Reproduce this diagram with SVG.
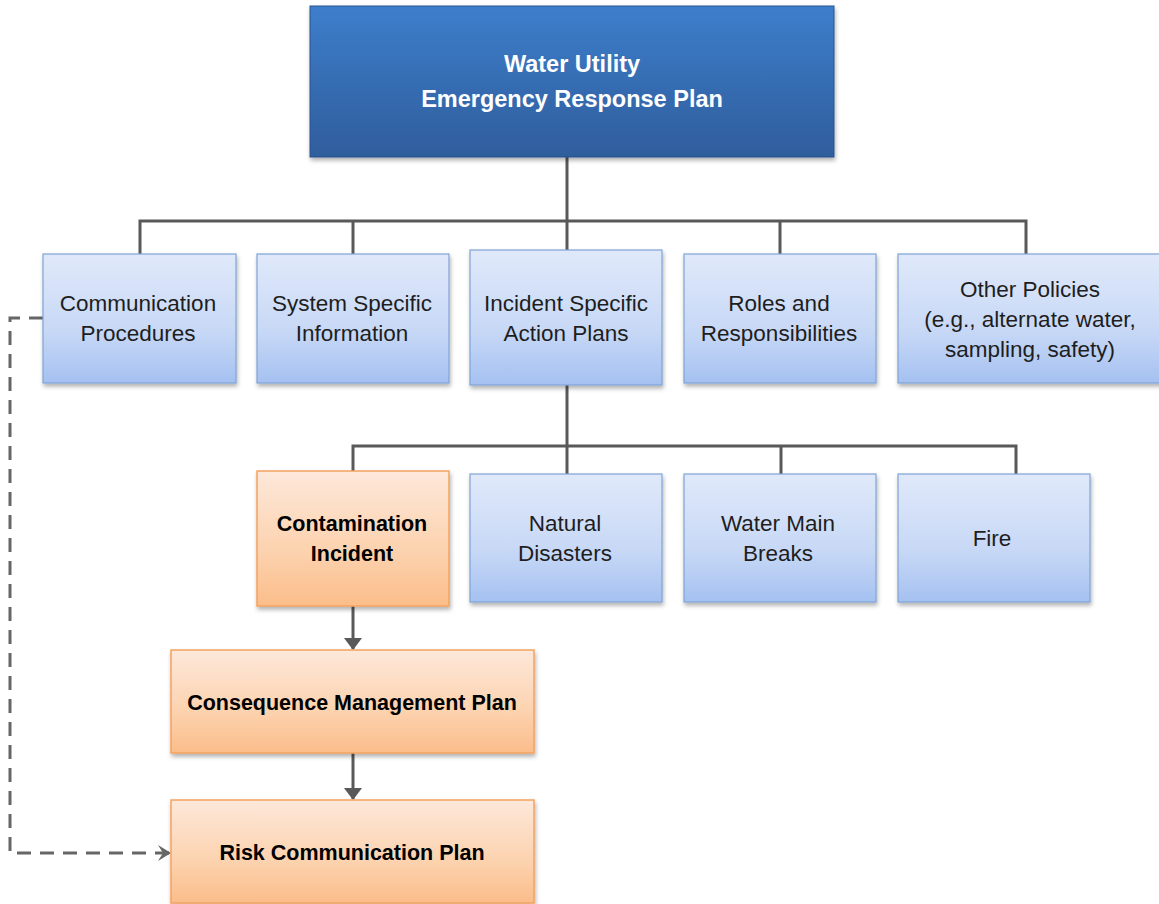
<svg xmlns="http://www.w3.org/2000/svg" width="1159" height="904" viewBox="0 0 1159 904">
<style>
.blue{fill:url(#gb);stroke:#7FA3D6;stroke-width:1.2;filter:url(#sh)}
.orng{fill:url(#go);stroke:#F3A35F;stroke-width:1.5;filter:url(#sh)}
.top{fill:url(#gt);stroke:#2A5390;stroke-width:1;filter:url(#sh)}
text{font-family:"Liberation Sans",Arial,sans-serif;font-size:22.5px;text-anchor:middle;fill:#1E1E1E}
.b{font-weight:bold;fill:#000;font-size:21.5px}
.w{font-weight:bold;fill:#fff;font-size:23.5px}
.ln{fill:none;stroke:#595959;stroke-width:3}
.ds{fill:none;stroke:#666;stroke-width:3;stroke-dasharray:14 9}
</style>
<defs>
<linearGradient id="gb" x1="0" y1="0" x2="0" y2="1"><stop offset="0" stop-color="#E0E9FA"/><stop offset="0.6" stop-color="#C7D8F6"/><stop offset="1" stop-color="#A5C1F1"/></linearGradient>
<linearGradient id="go" x1="0" y1="0" x2="0" y2="1"><stop offset="0" stop-color="#FDE8DA"/><stop offset="0.6" stop-color="#FCD2AE"/><stop offset="1" stop-color="#FBBD8A"/></linearGradient>
<linearGradient id="gt" x1="0" y1="0" x2="0" y2="1"><stop offset="0" stop-color="#3D7ECB"/><stop offset="1" stop-color="#2F5D9C"/></linearGradient>
<filter id="sh" x="-10%" y="-10%" width="120%" height="130%"><feDropShadow dx="1" dy="3" stdDeviation="2" flood-color="#000" flood-opacity="0.3"/></filter>
<marker id="ah" viewBox="0 0 12 18" refX="11" refY="9" markerWidth="12" markerHeight="18" markerUnits="userSpaceOnUse" orient="auto"><path d="M0,0 L12,9 L0,18 z" fill="#595959"/></marker>
<marker id="ac" viewBox="0 0 13 16" refX="12" refY="8" markerWidth="13" markerHeight="16" markerUnits="userSpaceOnUse" orient="auto"><path d="M0,0 L13,8 L0,16 L5,8 z" fill="#666"/></marker>
</defs>
<g id="connectors">
<path class="ln" d="M567,157 V221 M140,254 V221 H1026 V254 M353,221 V254 M567,221 V250 M780,221 V254"/>
<path class="ln" d="M567,385 V446 M353,471 V446 H1016 V474 M567,446 V474 M781,446 V474"/>
<path class="ln" d="M353,606 V649" marker-end="url(#ah)"/>
<path class="ln" d="M353,753 V799" marker-end="url(#ah)"/>
<path class="ds" d="M43,318 H10 V853 H170" marker-end="url(#ac)"/>
</g>
<g id="n-top"><rect class="top" x="310" y="6" width="524" height="151"/><text class="w" x="572" y="72">Water Utility</text><text class="w" x="572" y="107">Emergency Response Plan</text></g>
<g id="n-comm"><rect class="blue" x="43" y="254" width="193" height="129"/><text x="138" y="311">Communication</text><text x="138" y="341">Procedures</text></g>
<g id="n-sys"><rect class="blue" x="257" y="254" width="192" height="129"/><text x="352" y="311">System Specific</text><text x="352" y="341">Information</text></g>
<g id="n-inc"><rect class="blue" x="470" y="250" width="192" height="135"/><text x="566" y="311">Incident Specific</text><text x="566" y="341">Action Plans</text></g>
<g id="n-roles"><rect class="blue" x="684" y="254" width="192" height="129"/><text x="779" y="311">Roles and</text><text x="779" y="341">Responsibilities</text></g>
<g id="n-other"><rect class="blue" x="898" y="254" width="266" height="129"/><text x="1030" y="297">Other Policies</text><text x="1030" y="327">(e.g., alternate water,</text><text x="1030" y="357">sampling, safety)</text></g>
<g id="n-cont"><rect class="orng" x="257" y="471" width="192" height="135"/><text class="b" x="352" y="531">Contamination</text><text class="b" x="352" y="561">Incident</text></g>
<g id="n-nat"><rect class="blue" x="470" y="474" width="192" height="128"/><text x="565" y="531">Natural</text><text x="565" y="561">Disasters</text></g>
<g id="n-wmb"><rect class="blue" x="684" y="474" width="192" height="128"/><text x="778" y="531">Water Main</text><text x="778" y="561">Breaks</text></g>
<g id="n-fire"><rect class="blue" x="898" y="474" width="192" height="128"/><text x="992" y="546">Fire</text></g>
<g id="n-cmp"><rect class="orng" x="171" y="650" width="363" height="103"/><text class="b" x="352" y="710">Consequence Management Plan</text></g>
<g id="n-rcp"><rect class="orng" x="171" y="800" width="363" height="103"/><text class="b" x="352" y="860">Risk Communication Plan</text></g>
</svg>
